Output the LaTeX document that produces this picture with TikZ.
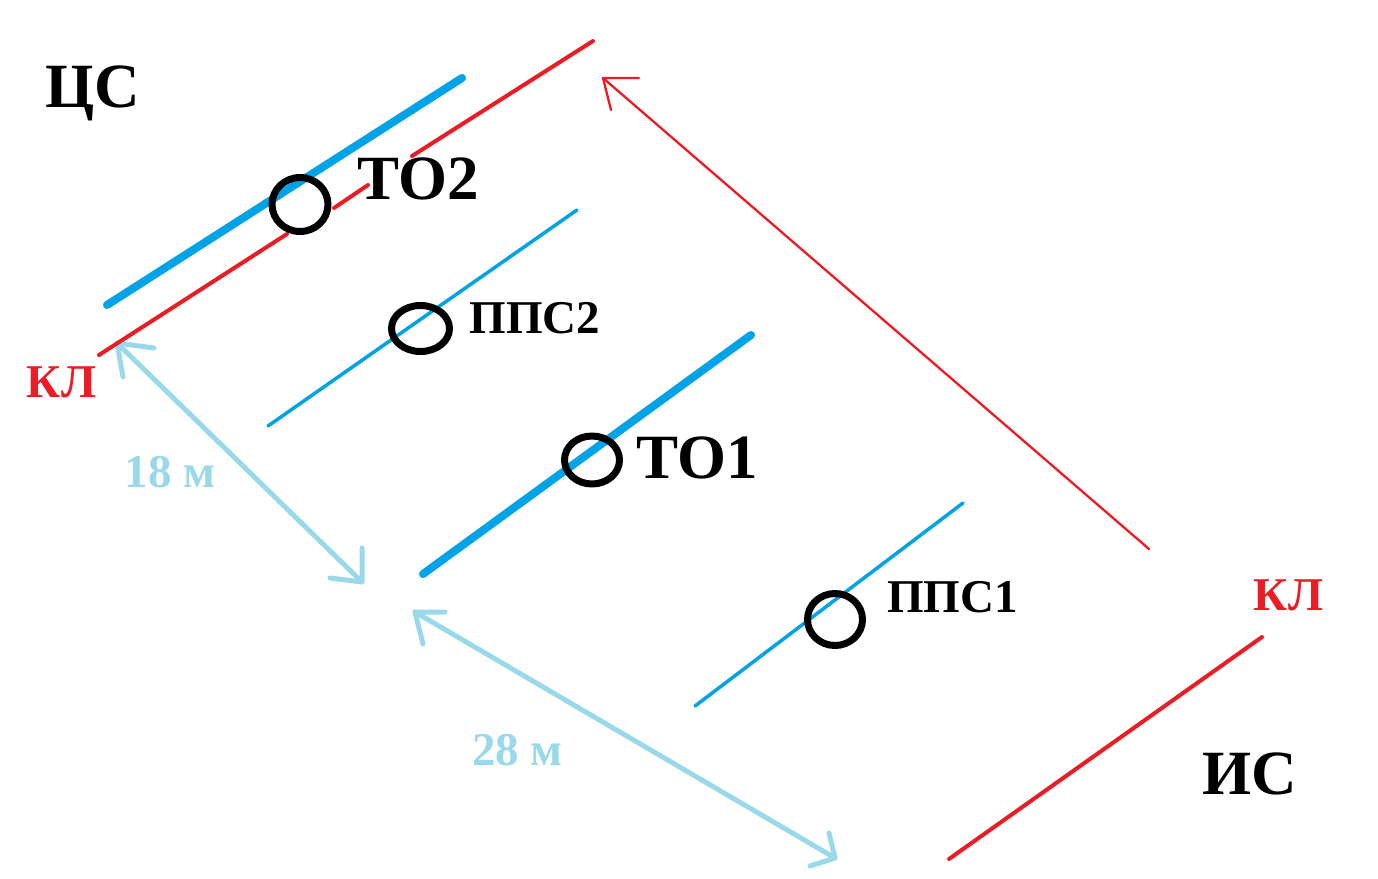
\documentclass[tikz,border=0pt]{standalone}
\usepackage{fontspec}
\setmainfont{Liberation Serif}
\usetikzlibrary{shapes.geometric}
\definecolor{myred}{HTML}{ED1C24}
\definecolor{myblue}{HTML}{00A2E8}
\definecolor{mylight}{HTML}{99D9EA}
\tikzset{
  every path/.style={line cap=round,line join=round},
  thinred/.style={draw=myred,line width=2.3pt},
  midred/.style={draw=myred,line width=4pt},
  thinblue/.style={draw=myblue,line width=3.5pt},
  thickblue/.style={draw=myblue,line width=8pt},
  dimline/.style={draw=mylight,line width=5pt},
  ring/.style={ellipse,draw=black,line width=7pt,inner sep=0pt,fill=none},
  lab/.style={inner sep=0pt,font=\bfseries},
  big/.style={lab,font=\fontsize{63}{63}\selectfont\bfseries},
  small/.style={lab,font=\fontsize{47}{47}\selectfont\bfseries},
}
\begin{document}
\begin{tikzpicture}[x=1pt,y=-1pt]
\useasboundingbox (0,0) rectangle (1378,878);
% end points
\coordinate (r1a) at (99,355); \coordinate (r1b) at (287,234);
\coordinate (r1c) at (334,208); \coordinate (r1d) at (368,185);
\coordinate (r1e) at (412,156); \coordinate (r1f) at (593,41);
\coordinate (t2a) at (107,305); \coordinate (t2b) at (462,78);
\coordinate (p2a) at (268,426); \coordinate (p2b) at (577,210);
\coordinate (t1a) at (423,574); \coordinate (t1b) at (751,335);
\coordinate (p1a) at (695,706); \coordinate (p1b) at (963,503);
\coordinate (r2a) at (949,859); \coordinate (r2b) at (1262,637);
\coordinate (ra) at (1149,549); \coordinate (rt) at (603,78);
\coordinate (rb1) at (639,78); \coordinate (rb2) at (611,110);
\coordinate (d1a) at (117,343); \coordinate (d1b) at (362,582);
\coordinate (d1c) at (154,348); \coordinate (d1d) at (123,377);
\coordinate (d1e) at (362,548); \coordinate (d1f) at (330,578);
\coordinate (d2a) at (415,612); \coordinate (d2b) at (835,858);
\coordinate (d2c) at (445,612); \coordinate (d2d) at (423,644);
\coordinate (d2e) at (829,833); \coordinate (d2f) at (810,866);
% lines
\draw[thickblue] (t2a) -- (t2b);
\draw[dimline] (d1a) -- (d1b);
\draw[dimline] (d1c) -- (d1a) -- (d1d);
\draw[midred] (r1a) -- (r1b);
\draw[midred] (r1c) -- (r1d);
\draw[midred] (r1e) -- (r1f);
\draw[thinblue] (p2a) -- (p2b);
\draw[thickblue] (t1a) -- (t1b);
\draw[thinblue] (p1a) -- (p1b);
\draw[midred] (r2a) -- (r2b);
\draw[thinred] (ra) -- (rt);
\draw[thinred] (rb1) -- (rt) -- (rb2);
\draw[dimline] (d1e) -- (d1b) -- (d1f);
\draw[dimline] (d2a) -- (d2b);
\draw[dimline] (d2c) -- (d2a) -- (d2d);
\draw[dimline] (d2e) -- (d2b) -- (d2f);
% circles
\node[ring,minimum width=56pt,minimum height=54pt] (c1) at (300,204.5) {};
\node[ring,minimum width=58pt,minimum height=46pt] (c2) at (420.5,328.5) {};
\node[ring,minimum width=55pt,minimum height=48pt] (c3) at (592,460) {};
\node[ring,minimum width=55pt,minimum height=52pt] (c4) at (835,619.5) {};
% labels
\node[big] (ts) at (93,93) {ЦС};
\node[big] (to2) at (418,179) {ТО2};
\node[small] (pps2) at (535,318) {ППС2};
\node[small,text=myred] (kl1) at (61.5,382) {КЛ};
\node[small,text=mylight] (d18) at (170,472) {18 м};
\node[big] (to1) at (697,458) {ТО1};
\node[small] (pps1) at (952.5,597) {ППС1};
\node[small,text=myred] (kl2) at (1288.5,595) {КЛ};
\node[small,text=mylight] (d28) at (517.5,750) {28 м};
\node[big] (is) at (1250,774) {ИС};
\end{tikzpicture}
\end{document}
